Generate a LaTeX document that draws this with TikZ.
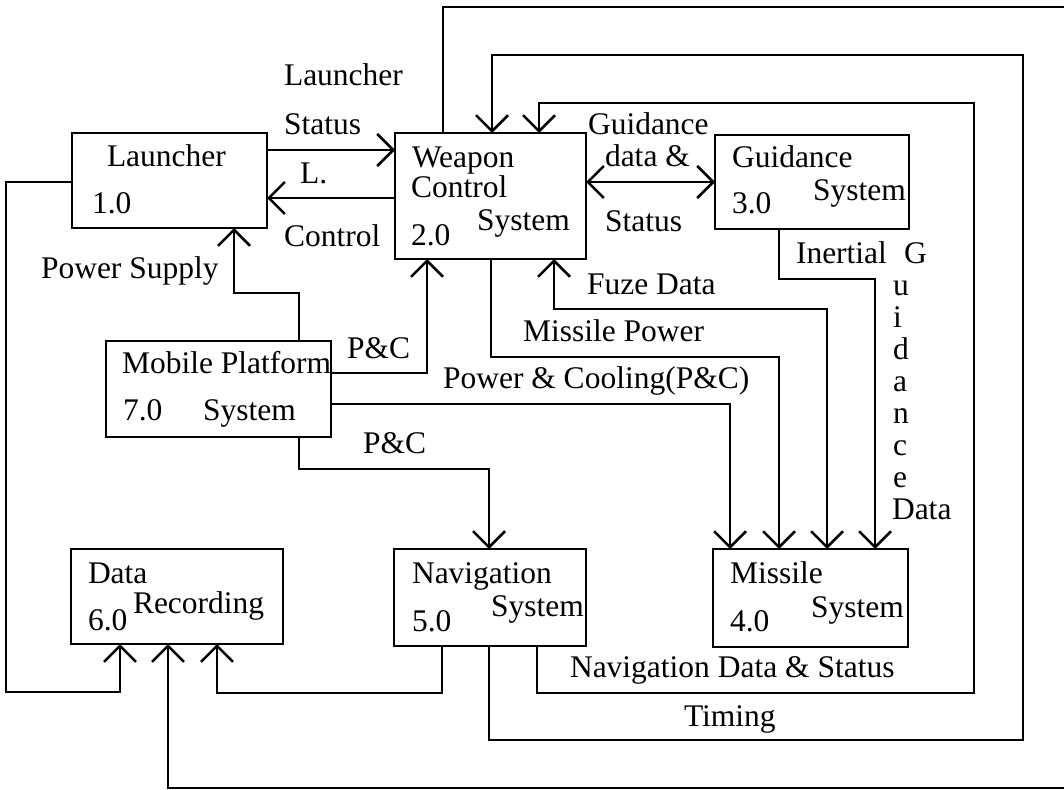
\documentclass[tikz,border=0pt]{standalone}
\usepackage{fontspec}
\setmainfont{Liberation Serif}
\usetikzlibrary{arrows.meta}
\begin{document}
\begin{tikzpicture}[x=1pt,y=-1pt,
  blk/.style 2 args={draw, line width=2.5pt, inner sep=0pt, outer sep=0pt,
    minimum width=#1, minimum height=#2},
  lbl/.style={anchor=base west, inner sep=0pt, outer sep=0pt,
    font=\fontsize{31.5}{36}\selectfont},
  wire/.style={line width=2.5pt, line join=miter},
  arr/.style={wire, -{Straight Barb[length=16pt,width=32pt]}},
  biarr/.style={wire, {Straight Barb[length=16pt,width=32pt]}-{Straight Barb[length=16pt,width=32pt]}}]

\useasboundingbox (0,0) rectangle (1064,789);
\fill[white] (0,0) rectangle (1064,789);
\clip (0,0) rectangle (1064,789);

% process boxes
\node[blk={195pt}{95pt}]  (L)  at (169.5,180.5) {};
\node[blk={191pt}{126pt}] (W)  at (490.5,196)   {};
\node[blk={194pt}{94pt}]  (G)  at (812,182)     {};
\node[blk={225pt}{96pt}]  (MP) at (218.5,389)   {};
\node[blk={212pt}{95pt}]  (DR) at (177,596.5)   {};
\node[blk={192pt}{97pt}]  (N)  at (490,597.5)   {};
\node[blk={195pt}{98pt}]  (M)  at (810.5,598)   {};

% box captions
\node[lbl] (Lt1) at (107,166) {Launcher};
\node[lbl] (Lt2) at (92,213)  {1.0};
\node[lbl] (Wt1) at (412,167) {Weapon};
\node[lbl] (Wt2) at (411,197) {Control};
\node[lbl] (Wt3) at (477,230) {System};
\node[lbl] (Wt4) at (411,245) {2.0};
\node[lbl] (Gt1) at (732,167) {Guidance};
\node[lbl] (Gt2) at (813,200) {System};
\node[lbl] (Gt3) at (732,213) {3.0};
\node[lbl] (Mt1) at (122,373) {Mobile Platform};
\node[lbl] (Mt2) at (123,420) {7.0};
\node[lbl] (Mt3) at (203,420) {System};
\node[lbl] (Dt1) at (88,583)  {Data};
\node[lbl] (Dt2) at (133,613) {Recording};
\node[lbl] (Dt3) at (88,630)  {6.0};
\node[lbl] (Nt1) at (412,583) {Navigation};
\node[lbl] (Nt2) at (491,616) {System};
\node[lbl] (Nt3) at (412,631) {5.0};
\node[lbl] (St1) at (730,583) {Missile};
\node[lbl] (St2) at (811,617) {System};
\node[lbl] (St3) at (730,631) {4.0};

% flow labels
\node[lbl] (f1a) at (284,86)  {Launcher};
\node[lbl] (f1b) at (284,134) {Status};
\node[lbl] (f2a) at (300,183) {L.};
\node[lbl] (f2b) at (284,246) {Control};
\node[lbl] (f3)  at (41,278)  {Power Supply};
\node[lbl] (f4)  at (347,358) {P\&C};
\node[lbl] (f5)  at (443,388) {Power \& Cooling(P\&C)};
\node[lbl] (f6)  at (363,453) {P\&C};
\node[lbl] (f7)  at (523,341) {Missile Power};
\node[lbl] (f8)  at (587,294) {Fuze Data};
\node[lbl] (f9a) at (588,135) {Guidance};
\node[lbl] (f9b) at (605,166) {data \&};
\node[lbl] (f9c) at (605,231) {Status};
\node[lbl] (f10a) at (796,263) {Inertial};
\node[lbl] (f10b) at (904,263) {G};
\foreach \ch [count=\i] in {u,i,d,a,n,c,e}
  \node[lbl] (f10c\i) at (893,263+32*\i) {\ch};
\node[lbl] (f10d) at (892,519) {Data};
\node[lbl] (f11) at (570,677) {Navigation Data \& Status};
\node[lbl] (f12) at (684,726) {Timing};

% connectors
\draw[arr] (L.east |- 0,150) -- (W.west |- 0,150);
\draw[arr] (W.west |- 0,198) -- (L.east |- 0,198);
\draw[arr] (MP.north -| 299,0) |- (234,293) -- (L.south -| 234,0);
\draw[arr] (MP.east |- 0,373) -| (W.south -| 427,0);
\draw[arr] (MP.east |- 0,404) -| (M.north -| 730,0);
\draw[arr] (MP.south -| 299,0) -- (299,469) -| (N.north -| 489,0);
\draw[arr] (W.south -| 491,0) -- (491,357) -| (M.north -| 779,0);
\draw[biarr] (M.north -| 827,0) -- (827,309) -| (W.south -| 554,0);
\draw[biarr] (W.east |- 0,182) -- (G.west |- 0,182);
\draw[arr] (G.south -| 779,0) -- (779,279) -| (M.north -| 875,0);
\draw[arr] (N.south -| 537,0) -- (537,693) -| (974,103) -| (W.north -| 539,0);
\draw[arr] (N.south -| 489,0) -- (489,740) -| (1023,55) -| (W.north -| 492,0);
\draw[arr] (W.north -| 443,0) -- (443,7) -| (1100,788) -| (DR.south -| 168,0);
\draw[arr] (L.west |- 0,182) -| (6,692) -| (DR.south -| 120,0);
\draw[arr] (N.south -| 442,0) -- (442,693) -| (DR.south -| 217,0);
\end{tikzpicture}
\end{document}
